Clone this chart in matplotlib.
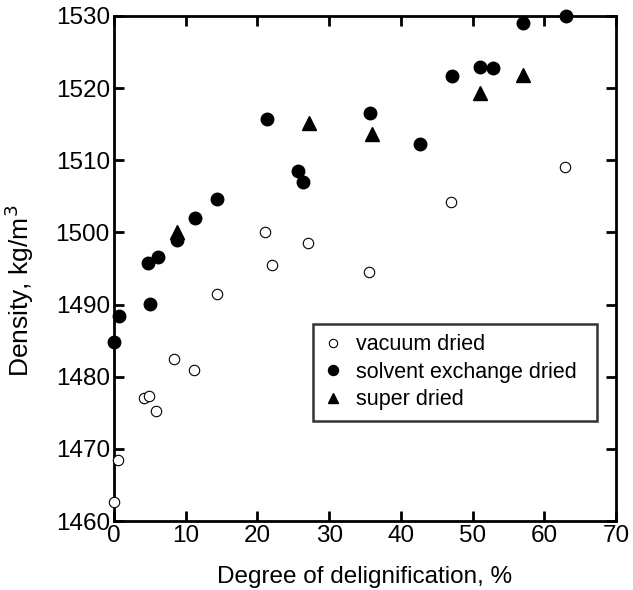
import matplotlib
matplotlib.use("Agg")
import matplotlib.pyplot as plt

plt.rcParams['font.family'] = ['Liberation Sans', 'DejaVu Sans']

# vacuum dried (open circles)
vac_x = [0.0, 0.5, 4.2, 4.9, 5.9, 8.4, 11.2, 14.3, 21.0, 22.1, 27.0, 35.6, 47.0, 62.9]
vac_y = [1462.6, 1468.4, 1477.1, 1477.3, 1475.2, 1482.5, 1481.0, 1491.4, 1500.0, 1495.5, 1498.5, 1494.5, 1504.2, 1509.1]

# solvent exchange dried (filled circles)
sol_x = [0.0, 0.7, 5.0, 4.8, 6.2, 8.8, 11.3, 14.4, 21.3, 25.6, 26.3, 35.7, 42.6, 47.2, 51.1, 52.8, 57.1, 63.0]
sol_y = [1484.8, 1488.4, 1490.1, 1495.8, 1496.6, 1499.0, 1502.0, 1504.6, 1515.7, 1508.5, 1507.0, 1516.5, 1512.3, 1521.7, 1522.9, 1522.8, 1529.0, 1530.0]

# super dried (triangles)
sup_x = [8.8, 27.2, 36.0, 51.1, 57.1]
sup_y = [1500.0, 1515.2, 1513.7, 1519.3, 1521.8]

x_ticks = [0, 10, 20, 30, 40, 50, 60, 70]
y_ticks = [1460, 1470, 1480, 1490, 1500, 1510, 1520, 1530]

fig = plt.figure(figsize=(6.33, 5.90), dpi=100)
ax = fig.add_axes([114/633, 1 - 521/590, (616-114)/633, (521-16)/590])

ax.plot(vac_x, vac_y, linestyle='none', marker='o', markersize=7.5,
        markerfacecolor='white', markeredgecolor='black', markeredgewidth=0.8,
        label='vacuum dried', clip_on=False, zorder=3)
ax.plot(sol_x, sol_y, linestyle='none', marker='o', markersize=9,
        color='black', label='solvent exchange dried', clip_on=False, zorder=4)
ax.plot(sup_x, sup_y, linestyle='none', marker='^', markersize=9.5,
        color='black', label='super dried', clip_on=False, zorder=4)

ax.set_xlim(0, 70)
ax.set_ylim(1460, 1530)
ax.set_xticks(x_ticks)
ax.set_yticks(y_ticks)
ax.tick_params(direction='in', length=7, width=2, top=True, right=True,
               labelsize=17.5, pad=3)
for s in ax.spines.values():
    s.set_linewidth(2)

ax.set_xlabel('Degree of delignification, %', fontsize=17.5)
ax.xaxis.set_label_coords(0.5, -0.09)
ax.set_ylabel('Density, kg/m$^3$', fontsize=19)
ax.yaxis.set_label_coords(-0.155, 0.455)

leg = ax.legend(loc='lower left', bbox_to_anchor=(0.396, 0.198, 0.566, 0.204),
                mode='expand', fontsize=15.5, frameon=True, fancybox=False,
                handlelength=0.9, handletextpad=0.6, borderpad=0.5,
                labelspacing=0.3, markerscale=0.8, borderaxespad=0)
leg.get_frame().set_edgecolor('black')
leg.get_frame().set_linewidth(1.8)

fig.savefig('out.png', dpi=100)
